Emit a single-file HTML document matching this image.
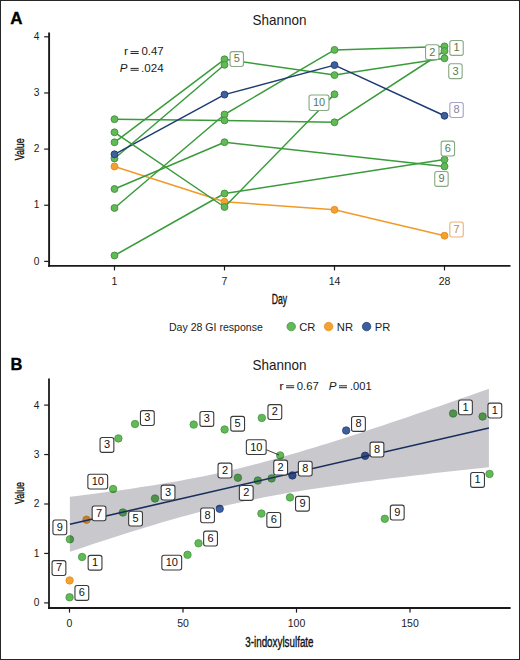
<!DOCTYPE html>
<html><head><meta charset="utf-8"><style>
html,body{margin:0;padding:0;background:#fff;}
#fig{position:relative;width:520px;height:660px;box-sizing:border-box;border:1px solid #262626;overflow:hidden;background:#fff;}
svg{position:absolute;left:-1px;top:-1px;font-family:"Liberation Sans", sans-serif;}
</style></head><body>
<div id="fig"><svg width="520" height="660" viewBox="0 0 520 660">
<text x="10.2" y="24" font-size="17" text-anchor="start" fill="#000" font-weight="bold" stroke="#000" stroke-width="0.35">A</text>
<text x="252.4" y="24.6" font-size="14.3" text-anchor="start" fill="#1a1a1a" textLength="54.0" lengthAdjust="spacingAndGlyphs" >Shannon</text>
<line x1="49.1" y1="32.5" x2="49.1" y2="266.8" stroke="#1a1a1a" stroke-width="1.9"/>
<line x1="48.15" y1="265.9" x2="510.5" y2="265.9" stroke="#1a1a1a" stroke-width="1.9"/>
<line x1="44.2" y1="261.4" x2="49" y2="261.4" stroke="#1a1a1a" stroke-width="1.2"/>
<text x="39.4" y="264.50" font-size="10.2" text-anchor="end" fill="#1a1a1a" >0</text>
<line x1="44.2" y1="205.24999999999997" x2="49" y2="205.24999999999997" stroke="#1a1a1a" stroke-width="1.2"/>
<text x="39.4" y="208.35" font-size="10.2" text-anchor="end" fill="#1a1a1a" >1</text>
<line x1="44.2" y1="149.09999999999997" x2="49" y2="149.09999999999997" stroke="#1a1a1a" stroke-width="1.2"/>
<text x="39.4" y="152.20" font-size="10.2" text-anchor="end" fill="#1a1a1a" >2</text>
<line x1="44.2" y1="92.94999999999999" x2="49" y2="92.94999999999999" stroke="#1a1a1a" stroke-width="1.2"/>
<text x="39.4" y="96.05" font-size="10.2" text-anchor="end" fill="#1a1a1a" >3</text>
<line x1="44.2" y1="36.79999999999998" x2="49" y2="36.79999999999998" stroke="#1a1a1a" stroke-width="1.2"/>
<text x="39.4" y="39.90" font-size="10.2" text-anchor="end" fill="#1a1a1a" >4</text>
<line x1="114.5" y1="265.9" x2="114.5" y2="270.4" stroke="#1a1a1a" stroke-width="1.2"/>
<text x="114.5" y="284.8" font-size="10.5" text-anchor="middle" fill="#1a1a1a" >1</text>
<line x1="224.5" y1="265.9" x2="224.5" y2="270.4" stroke="#1a1a1a" stroke-width="1.2"/>
<text x="224.5" y="284.8" font-size="10.5" text-anchor="middle" fill="#1a1a1a" >7</text>
<line x1="334.5" y1="265.9" x2="334.5" y2="270.4" stroke="#1a1a1a" stroke-width="1.2"/>
<text x="334.5" y="284.8" font-size="10.5" text-anchor="middle" fill="#1a1a1a" >14</text>
<line x1="444.5" y1="265.9" x2="444.5" y2="270.4" stroke="#1a1a1a" stroke-width="1.2"/>
<text x="444.5" y="284.8" font-size="10.5" text-anchor="middle" fill="#1a1a1a" >28</text>
<text x="279.5" y="303.8" font-size="14" text-anchor="middle" fill="#111" textLength="15.4" lengthAdjust="spacingAndGlyphs" stroke="#111" stroke-width="0.35">Day</text>
<text x="0" y="0" font-size="13.6" fill="#111" stroke="#111" stroke-width="0.35" text-anchor="middle" textLength="22.0" lengthAdjust="spacingAndGlyphs" transform="translate(24.3,149.3) rotate(-90)">Value</text>
<text x="123.98" y="55.3" font-size="10.3" text-anchor="start" fill="#1a1a1a" textLength="4.13" lengthAdjust="spacingAndGlyphs" >r</text>
<line x1="130.5" y1="51.60" x2="138.7" y2="51.60" stroke="#1a1a1a" stroke-width="0.95"/>
<line x1="130.5" y1="53.50" x2="138.7" y2="53.50" stroke="#1a1a1a" stroke-width="0.95"/>
<text x="141.49" y="55.3" font-size="10.3" text-anchor="start" fill="#1a1a1a" textLength="22.23" lengthAdjust="spacingAndGlyphs" >0.47</text>
<text x="119.89" y="72.1" font-size="10.3" text-anchor="start" fill="#1a1a1a" font-style="italic" textLength="7.73" lengthAdjust="spacingAndGlyphs" >P</text>
<line x1="130.5" y1="68.40" x2="138.7" y2="68.40" stroke="#1a1a1a" stroke-width="0.95"/>
<line x1="130.5" y1="70.30" x2="138.7" y2="70.30" stroke="#1a1a1a" stroke-width="0.95"/>
<text x="141.09" y="72.1" font-size="10.3" text-anchor="start" fill="#1a1a1a" textLength="22.63" lengthAdjust="spacingAndGlyphs" >.024</text>
<polyline points="114.5,208 224.5,114.5 334.5,49.9 444.5,46.4" fill="none" stroke="#3a9b3b" stroke-width="1.5" stroke-linejoin="round"/>
<circle cx="114.5" cy="208" r="3.45" fill="#62ba56" stroke="#3e8f3c" stroke-width="0.9"/>
<circle cx="224.5" cy="114.5" r="3.45" fill="#62ba56" stroke="#3e8f3c" stroke-width="0.9"/>
<circle cx="334.5" cy="49.9" r="3.45" fill="#62ba56" stroke="#3e8f3c" stroke-width="0.9"/>
<circle cx="444.5" cy="46.4" r="3.45" fill="#62ba56" stroke="#3e8f3c" stroke-width="0.9"/>
<polyline points="114.5,142.3 224.5,59.3 334.5,75.1 444.5,58.3" fill="none" stroke="#3a9b3b" stroke-width="1.5" stroke-linejoin="round"/>
<circle cx="114.5" cy="142.3" r="3.45" fill="#62ba56" stroke="#3e8f3c" stroke-width="0.9"/>
<circle cx="224.5" cy="59.3" r="3.45" fill="#62ba56" stroke="#3e8f3c" stroke-width="0.9"/>
<circle cx="334.5" cy="75.1" r="3.45" fill="#62ba56" stroke="#3e8f3c" stroke-width="0.9"/>
<circle cx="444.5" cy="58.3" r="3.45" fill="#62ba56" stroke="#3e8f3c" stroke-width="0.9"/>
<polyline points="114.5,119.2 224.5,120.4 334.5,122.3 444.5,51.0" fill="none" stroke="#3a9b3b" stroke-width="1.5" stroke-linejoin="round"/>
<circle cx="114.5" cy="119.2" r="3.45" fill="#62ba56" stroke="#3e8f3c" stroke-width="0.9"/>
<circle cx="224.5" cy="120.4" r="3.45" fill="#62ba56" stroke="#3e8f3c" stroke-width="0.9"/>
<circle cx="334.5" cy="122.3" r="3.45" fill="#62ba56" stroke="#3e8f3c" stroke-width="0.9"/>
<circle cx="444.5" cy="51.0" r="3.45" fill="#62ba56" stroke="#3e8f3c" stroke-width="0.9"/>
<polyline points="114.5,158.5 224.5,64.8" fill="none" stroke="#3a9b3b" stroke-width="1.5" stroke-linejoin="round"/>
<circle cx="114.5" cy="158.5" r="3.45" fill="#62ba56" stroke="#3e8f3c" stroke-width="0.9"/>
<circle cx="224.5" cy="64.8" r="3.45" fill="#62ba56" stroke="#3e8f3c" stroke-width="0.9"/>
<polyline points="114.5,255.5 224.5,193.5 444.5,159.6" fill="none" stroke="#3a9b3b" stroke-width="1.5" stroke-linejoin="round"/>
<circle cx="114.5" cy="255.5" r="3.45" fill="#62ba56" stroke="#3e8f3c" stroke-width="0.9"/>
<circle cx="224.5" cy="193.5" r="3.45" fill="#62ba56" stroke="#3e8f3c" stroke-width="0.9"/>
<circle cx="444.5" cy="159.6" r="3.45" fill="#62ba56" stroke="#3e8f3c" stroke-width="0.9"/>
<polyline points="114.5,166.5 224.5,201.8 334.5,209.8 444.5,235.7" fill="none" stroke="#f29a28" stroke-width="1.5" stroke-linejoin="round"/>
<circle cx="114.5" cy="166.5" r="3.45" fill="#f5a131" stroke="#e08a1c" stroke-width="0.9"/>
<circle cx="224.5" cy="201.8" r="3.45" fill="#f5a131" stroke="#e08a1c" stroke-width="0.9"/>
<circle cx="334.5" cy="209.8" r="3.45" fill="#f5a131" stroke="#e08a1c" stroke-width="0.9"/>
<circle cx="444.5" cy="235.7" r="3.45" fill="#f5a131" stroke="#e08a1c" stroke-width="0.9"/>
<polyline points="114.5,154.3 224.5,94.6 334.5,65.1 444.5,115.8" fill="none" stroke="#1e3b73" stroke-width="1.5" stroke-linejoin="round"/>
<circle cx="114.5" cy="154.3" r="3.45" fill="#3d5f9e" stroke="#1d3a72" stroke-width="0.9"/>
<circle cx="224.5" cy="94.6" r="3.45" fill="#3d5f9e" stroke="#1d3a72" stroke-width="0.9"/>
<circle cx="334.5" cy="65.1" r="3.45" fill="#3d5f9e" stroke="#1d3a72" stroke-width="0.9"/>
<circle cx="444.5" cy="115.8" r="3.45" fill="#3d5f9e" stroke="#1d3a72" stroke-width="0.9"/>
<polyline points="114.5,189 224.5,142.2 444.5,166.4" fill="none" stroke="#3a9b3b" stroke-width="1.5" stroke-linejoin="round"/>
<circle cx="114.5" cy="189" r="3.45" fill="#62ba56" stroke="#3e8f3c" stroke-width="0.9"/>
<circle cx="224.5" cy="142.2" r="3.45" fill="#62ba56" stroke="#3e8f3c" stroke-width="0.9"/>
<circle cx="444.5" cy="166.4" r="3.45" fill="#62ba56" stroke="#3e8f3c" stroke-width="0.9"/>
<polyline points="114.5,132.3 224.5,207 334.5,94.3" fill="none" stroke="#3a9b3b" stroke-width="1.5" stroke-linejoin="round"/>
<circle cx="114.5" cy="132.3" r="3.45" fill="#62ba56" stroke="#3e8f3c" stroke-width="0.9"/>
<circle cx="224.5" cy="207" r="3.45" fill="#62ba56" stroke="#3e8f3c" stroke-width="0.9"/>
<circle cx="334.5" cy="94.3" r="3.45" fill="#62ba56" stroke="#3e8f3c" stroke-width="0.9"/>
<line x1="329.4" y1="99" x2="332" y2="96.5" stroke="#3a9b3b" stroke-width="1.2"/>
<rect x="449.85" y="40.45" width="13.40" height="14.90" rx="2.2" ry="2.2" fill="#fff" stroke="#86a882" stroke-width="1.1"/>
<text x="456.55" y="51.25" font-size="11" text-anchor="middle" fill="#557a52" >1</text>
<rect x="425.55" y="44.75" width="13.40" height="14.90" rx="2.2" ry="2.2" fill="#fff" stroke="#86a882" stroke-width="1.1"/>
<text x="432.25" y="55.55" font-size="11" text-anchor="middle" fill="#557a52" >2</text>
<rect x="448.75" y="63.75" width="13.40" height="14.90" rx="2.2" ry="2.2" fill="#fff" stroke="#86a882" stroke-width="1.1"/>
<text x="455.45" y="74.55" font-size="11" text-anchor="middle" fill="#557a52" >3</text>
<rect x="230.05" y="51.65" width="13.40" height="14.90" rx="2.2" ry="2.2" fill="#fff" stroke="#86a882" stroke-width="1.1"/>
<text x="236.75" y="62.45" font-size="11" text-anchor="middle" fill="#557a52" >5</text>
<rect x="441.15" y="141.15" width="13.40" height="14.90" rx="2.2" ry="2.2" fill="#fff" stroke="#86a882" stroke-width="1.1"/>
<text x="447.85" y="151.95" font-size="11" text-anchor="middle" fill="#557a52" >6</text>
<rect x="434.75" y="171.45" width="13.40" height="14.90" rx="2.2" ry="2.2" fill="#fff" stroke="#86a882" stroke-width="1.1"/>
<text x="441.45" y="182.25" font-size="11" text-anchor="middle" fill="#557a52" >9</text>
<rect x="449.85" y="222.05" width="13.40" height="14.90" rx="2.2" ry="2.2" fill="#fff" stroke="#e8b474" stroke-width="1.1"/>
<text x="456.55" y="232.85" font-size="11" text-anchor="middle" fill="#c48a44" >7</text>
<rect x="449.85" y="102.55" width="13.40" height="14.90" rx="2.2" ry="2.2" fill="#fff" stroke="#a4a4c4" stroke-width="1.1"/>
<text x="456.55" y="113.35" font-size="11" text-anchor="middle" fill="#8686a6" >8</text>
<rect x="309.05" y="94.95" width="19.90" height="15.50" rx="2.2" ry="2.2" fill="#fff" stroke="#86a882" stroke-width="1.1"/>
<text x="319.00" y="106.05" font-size="11" text-anchor="middle" fill="#557a52" >10</text>
<text x="169.0" y="330.8" font-size="11.2" text-anchor="start" fill="#222" textLength="93.8" lengthAdjust="spacingAndGlyphs" >Day 28 GI response</text>
<circle cx="291.2" cy="326.6" r="4.25" fill="#62ba56" stroke="#3e8f3c" stroke-width="0.7"/>
<text x="299.2" y="330.8" font-size="11.2" text-anchor="start" fill="#222" >CR</text>
<circle cx="328.6" cy="326.6" r="4.25" fill="#f5a131" stroke="#e08a1c" stroke-width="0.7"/>
<text x="336.8" y="330.8" font-size="11.2" text-anchor="start" fill="#222" >NR</text>
<circle cx="366.6" cy="326.6" r="4.25" fill="#3d5f9e" stroke="#1d3a72" stroke-width="0.7"/>
<text x="374.7" y="330.8" font-size="11.2" text-anchor="start" fill="#222" >PR</text>
<text x="10.4" y="370" font-size="16.5" text-anchor="start" fill="#000" font-weight="bold" stroke="#000" stroke-width="0.35">B</text>
<text x="252.4" y="370.2" font-size="14.3" text-anchor="start" fill="#1a1a1a" textLength="54.0" lengthAdjust="spacingAndGlyphs" >Shannon</text>
<text x="279.28" y="389.5" font-size="10.5" text-anchor="start" fill="#1a1a1a" textLength="4.45" lengthAdjust="spacingAndGlyphs" >r</text>
<line x1="286.1" y1="385.80" x2="294.2" y2="385.80" stroke="#1a1a1a" stroke-width="0.95"/>
<line x1="286.1" y1="387.70" x2="294.2" y2="387.70" stroke="#1a1a1a" stroke-width="0.95"/>
<text x="296.78" y="389.5" font-size="10.5" text-anchor="start" fill="#1a1a1a" textLength="22.05" lengthAdjust="spacingAndGlyphs" >0.67</text>
<text x="328.88" y="389.5" font-size="10.5" text-anchor="start" fill="#1a1a1a" font-style="italic" textLength="7.75" lengthAdjust="spacingAndGlyphs" >P</text>
<line x1="339.0" y1="385.80" x2="347.0" y2="385.80" stroke="#1a1a1a" stroke-width="0.95"/>
<line x1="339.0" y1="387.70" x2="347.0" y2="387.70" stroke="#1a1a1a" stroke-width="0.95"/>
<text x="349.98" y="389.5" font-size="10.5" text-anchor="start" fill="#1a1a1a" textLength="21.75" lengthAdjust="spacingAndGlyphs" >.001</text>
<line x1="49" y1="378.5" x2="49" y2="608.9" stroke="#1a1a1a" stroke-width="1.8"/>
<line x1="48.1" y1="608" x2="510.6" y2="608" stroke="#1a1a1a" stroke-width="1.8"/>
<line x1="44.2" y1="602.90" x2="49" y2="602.90" stroke="#1a1a1a" stroke-width="1.2"/>
<text x="39.4" y="606.30" font-size="10.2" text-anchor="end" fill="#1a1a1a" >0</text>
<line x1="44.2" y1="553.45" x2="49" y2="553.45" stroke="#1a1a1a" stroke-width="1.2"/>
<text x="39.4" y="556.85" font-size="10.2" text-anchor="end" fill="#1a1a1a" >1</text>
<line x1="44.2" y1="504.00" x2="49" y2="504.00" stroke="#1a1a1a" stroke-width="1.2"/>
<text x="39.4" y="507.40" font-size="10.2" text-anchor="end" fill="#1a1a1a" >2</text>
<line x1="44.2" y1="454.55" x2="49" y2="454.55" stroke="#1a1a1a" stroke-width="1.2"/>
<text x="39.4" y="457.95" font-size="10.2" text-anchor="end" fill="#1a1a1a" >3</text>
<line x1="44.2" y1="405.10" x2="49" y2="405.10" stroke="#1a1a1a" stroke-width="1.2"/>
<text x="39.4" y="408.50" font-size="10.2" text-anchor="end" fill="#1a1a1a" >4</text>
<line x1="69.50" y1="608" x2="69.50" y2="612.6" stroke="#1a1a1a" stroke-width="1.2"/>
<text x="69.50" y="627" font-size="10.5" text-anchor="middle" fill="#1a1a1a" >0</text>
<line x1="183.00" y1="608" x2="183.00" y2="612.6" stroke="#1a1a1a" stroke-width="1.2"/>
<text x="183.00" y="627" font-size="10.5" text-anchor="middle" fill="#1a1a1a" >50</text>
<line x1="296.50" y1="608" x2="296.50" y2="612.6" stroke="#1a1a1a" stroke-width="1.2"/>
<text x="296.50" y="627" font-size="10.5" text-anchor="middle" fill="#1a1a1a" >100</text>
<line x1="410.00" y1="608" x2="410.00" y2="612.6" stroke="#1a1a1a" stroke-width="1.2"/>
<text x="410.00" y="627" font-size="10.5" text-anchor="middle" fill="#1a1a1a" >150</text>
<text x="279.4" y="647" font-size="14" text-anchor="middle" fill="#111" textLength="68.3" lengthAdjust="spacingAndGlyphs" stroke="#111" stroke-width="0.35">3-indoxylsulfate</text>
<text x="0" y="0" font-size="13.6" fill="#111" stroke="#111" stroke-width="0.35" text-anchor="middle" textLength="22.0" lengthAdjust="spacingAndGlyphs" transform="translate(24.3,493) rotate(-90)">Value</text>
<circle cx="135" cy="424" r="3.75" fill="#62ba56" stroke="#3e8f3c" stroke-width="0.7"/>
<circle cx="118.4" cy="438.4" r="3.75" fill="#62ba56" stroke="#3e8f3c" stroke-width="0.7"/>
<circle cx="193.7" cy="424.6" r="3.75" fill="#62ba56" stroke="#3e8f3c" stroke-width="0.7"/>
<circle cx="224.6" cy="429.5" r="3.75" fill="#62ba56" stroke="#3e8f3c" stroke-width="0.7"/>
<circle cx="261.8" cy="417.9" r="3.75" fill="#62ba56" stroke="#3e8f3c" stroke-width="0.7"/>
<circle cx="280.2" cy="455.4" r="3.75" fill="#62ba56" stroke="#3e8f3c" stroke-width="0.7"/>
<circle cx="237.9" cy="477.7" r="3.75" fill="#62ba56" stroke="#3e8f3c" stroke-width="0.7"/>
<circle cx="257.8" cy="480.5" r="3.75" fill="#62ba56" stroke="#3e8f3c" stroke-width="0.7"/>
<circle cx="271.6" cy="478.4" r="3.75" fill="#62ba56" stroke="#3e8f3c" stroke-width="0.7"/>
<circle cx="292.4" cy="475.4" r="3.75" fill="#3d5f9e" stroke="#1d3a72" stroke-width="0.7"/>
<circle cx="219.7" cy="508.8" r="3.75" fill="#3d5f9e" stroke="#1d3a72" stroke-width="0.7"/>
<circle cx="290" cy="497.4" r="3.75" fill="#62ba56" stroke="#3e8f3c" stroke-width="0.7"/>
<circle cx="261.4" cy="513.6" r="3.75" fill="#62ba56" stroke="#3e8f3c" stroke-width="0.7"/>
<circle cx="384.8" cy="518.8" r="3.75" fill="#62ba56" stroke="#3e8f3c" stroke-width="0.7"/>
<circle cx="346.2" cy="430.5" r="3.75" fill="#3d5f9e" stroke="#1d3a72" stroke-width="0.7"/>
<circle cx="365.1" cy="455.8" r="3.75" fill="#3d5f9e" stroke="#1d3a72" stroke-width="0.7"/>
<circle cx="453.1" cy="413.5" r="3.75" fill="#62ba56" stroke="#3e8f3c" stroke-width="0.7"/>
<circle cx="482.6" cy="416.5" r="3.75" fill="#62ba56" stroke="#3e8f3c" stroke-width="0.7"/>
<circle cx="489.5" cy="473.9" r="3.75" fill="#62ba56" stroke="#3e8f3c" stroke-width="0.7"/>
<circle cx="198.5" cy="543.3" r="3.75" fill="#62ba56" stroke="#3e8f3c" stroke-width="0.7"/>
<circle cx="187.5" cy="554.8" r="3.75" fill="#62ba56" stroke="#3e8f3c" stroke-width="0.7"/>
<circle cx="69.6" cy="597.3" r="3.75" fill="#62ba56" stroke="#3e8f3c" stroke-width="0.7"/>
<circle cx="69.6" cy="580.4" r="3.75" fill="#f5a131" stroke="#e08a1c" stroke-width="0.7"/>
<circle cx="82.1" cy="557" r="3.75" fill="#62ba56" stroke="#3e8f3c" stroke-width="0.7"/>
<circle cx="69.9" cy="539.3" r="3.75" fill="#62ba56" stroke="#3e8f3c" stroke-width="0.7"/>
<circle cx="86.5" cy="519.7" r="3.75" fill="#f5a131" stroke="#e08a1c" stroke-width="0.7"/>
<circle cx="122.8" cy="512.5" r="3.75" fill="#62ba56" stroke="#3e8f3c" stroke-width="0.7"/>
<circle cx="113.1" cy="489" r="3.75" fill="#62ba56" stroke="#3e8f3c" stroke-width="0.7"/>
<circle cx="155" cy="498.5" r="3.75" fill="#62ba56" stroke="#3e8f3c" stroke-width="0.7"/>
<polygon points="69.90,496.79 76.88,495.93 83.87,495.04 90.85,494.15 97.83,493.24 104.82,492.31 111.80,491.36 118.78,490.39 125.77,489.40 132.75,488.38 139.73,487.34 146.72,486.27 153.70,485.16 160.68,484.03 167.67,482.86 174.65,481.65 181.63,480.40 188.62,479.10 195.60,477.77 202.58,476.38 209.57,474.94 216.55,473.46 223.53,471.92 230.52,470.33 237.50,468.68 244.48,466.99 251.47,465.24 258.45,463.44 265.43,461.60 272.42,459.71 279.40,457.77 286.38,455.79 293.37,453.77 300.35,451.72 307.33,449.62 314.32,447.50 321.30,445.35 328.28,443.17 335.27,440.96 342.25,438.74 349.23,436.49 356.22,434.22 363.20,431.93 370.18,429.62 377.17,427.30 384.15,424.97 391.13,422.62 398.12,420.26 405.10,417.89 412.08,415.51 419.07,413.11 426.05,410.71 433.03,408.31 440.02,405.89 447.00,403.47 453.98,401.04 460.97,398.60 467.95,396.16 474.93,393.71 481.92,391.26 488.90,388.81 488.90,467.19 481.92,467.95 474.93,468.71 467.95,469.47 460.97,470.24 453.98,471.01 447.00,471.79 440.02,472.58 433.03,473.37 426.05,474.18 419.07,474.99 412.08,475.80 405.10,476.63 398.12,477.47 391.13,478.32 384.15,479.18 377.17,480.06 370.18,480.95 363.20,481.85 356.22,482.77 349.23,483.71 342.25,484.67 335.27,485.66 328.28,486.66 321.30,487.69 314.32,488.75 307.33,489.84 300.35,490.95 293.37,492.11 286.38,493.30 279.40,494.53 272.42,495.80 265.43,497.12 258.45,498.49 251.47,499.90 244.48,501.36 237.50,502.88 230.52,504.44 223.53,506.06 216.55,507.73 209.57,509.46 202.58,511.23 195.60,513.05 188.62,514.93 181.63,516.84 174.65,518.80 167.67,520.80 160.68,522.84 153.70,524.92 146.72,527.02 139.73,529.16 132.75,531.33 125.77,533.52 118.78,535.74 111.80,537.98 104.82,540.24 97.83,542.52 90.85,544.82 83.87,547.14 76.88,549.46 69.90,551.81" fill="rgb(12,8,30)" fill-opacity="0.225"/>
<line x1="69.9" y1="524.3" x2="488.9" y2="428.0" stroke="#182f5e" stroke-width="1.6"/>
<line x1="266" y1="449.6" x2="279" y2="455" stroke="#222" stroke-width="0.9"/>
<rect x="140.45" y="410.65" width="13.80" height="14.80" rx="2.2" ry="2.2" fill="#fff" stroke="#3a3a3a" stroke-width="1.1"/>
<text x="147.35" y="421.40" font-size="11" text-anchor="middle" fill="#111" >3</text>
<rect x="100.05" y="437.55" width="13.80" height="14.80" rx="2.2" ry="2.2" fill="#fff" stroke="#3a3a3a" stroke-width="1.1"/>
<text x="106.95" y="448.30" font-size="11" text-anchor="middle" fill="#111" >3</text>
<rect x="199.95" y="411.55" width="13.80" height="14.80" rx="2.2" ry="2.2" fill="#fff" stroke="#3a3a3a" stroke-width="1.1"/>
<text x="206.85" y="422.30" font-size="11" text-anchor="middle" fill="#111" >3</text>
<rect x="230.75" y="416.35" width="13.80" height="14.80" rx="2.2" ry="2.2" fill="#fff" stroke="#3a3a3a" stroke-width="1.1"/>
<text x="237.65" y="427.10" font-size="11" text-anchor="middle" fill="#111" >5</text>
<rect x="267.95" y="404.65" width="13.80" height="14.80" rx="2.2" ry="2.2" fill="#fff" stroke="#3a3a3a" stroke-width="1.1"/>
<text x="274.85" y="415.40" font-size="11" text-anchor="middle" fill="#111" >2</text>
<rect x="246.35" y="439.75" width="19.80" height="14.80" rx="2.2" ry="2.2" fill="#fff" stroke="#3a3a3a" stroke-width="1.1"/>
<text x="256.25" y="450.50" font-size="11" text-anchor="middle" fill="#111" >10</text>
<rect x="218.05" y="463.15" width="13.80" height="14.80" rx="2.2" ry="2.2" fill="#fff" stroke="#3a3a3a" stroke-width="1.1"/>
<text x="224.95" y="473.90" font-size="11" text-anchor="middle" fill="#111" >2</text>
<rect x="273.75" y="460.15" width="13.80" height="14.80" rx="2.2" ry="2.2" fill="#fff" stroke="#3a3a3a" stroke-width="1.1"/>
<text x="280.65" y="470.90" font-size="11" text-anchor="middle" fill="#111" >2</text>
<rect x="239.35" y="485.55" width="13.80" height="14.80" rx="2.2" ry="2.2" fill="#fff" stroke="#3a3a3a" stroke-width="1.1"/>
<text x="246.25" y="496.30" font-size="11" text-anchor="middle" fill="#111" >2</text>
<rect x="298.35" y="461.25" width="13.80" height="14.80" rx="2.2" ry="2.2" fill="#fff" stroke="#3a3a3a" stroke-width="1.1"/>
<text x="305.25" y="472.00" font-size="11" text-anchor="middle" fill="#111" >8</text>
<rect x="295.55" y="496.35" width="13.80" height="14.80" rx="2.2" ry="2.2" fill="#fff" stroke="#3a3a3a" stroke-width="1.1"/>
<text x="302.45" y="507.10" font-size="11" text-anchor="middle" fill="#111" >9</text>
<rect x="200.65" y="507.95" width="13.80" height="14.80" rx="2.2" ry="2.2" fill="#fff" stroke="#3a3a3a" stroke-width="1.1"/>
<text x="207.55" y="518.70" font-size="11" text-anchor="middle" fill="#111" >8</text>
<rect x="266.85" y="512.55" width="13.80" height="14.80" rx="2.2" ry="2.2" fill="#fff" stroke="#3a3a3a" stroke-width="1.1"/>
<text x="273.75" y="523.30" font-size="11" text-anchor="middle" fill="#111" >6</text>
<rect x="390.35" y="505.15" width="13.80" height="14.80" rx="2.2" ry="2.2" fill="#fff" stroke="#3a3a3a" stroke-width="1.1"/>
<text x="397.25" y="515.90" font-size="11" text-anchor="middle" fill="#111" >9</text>
<rect x="351.55" y="416.55" width="13.80" height="14.80" rx="2.2" ry="2.2" fill="#fff" stroke="#3a3a3a" stroke-width="1.1"/>
<text x="358.45" y="427.30" font-size="11" text-anchor="middle" fill="#111" >8</text>
<rect x="370.05" y="442.15" width="13.80" height="14.80" rx="2.2" ry="2.2" fill="#fff" stroke="#3a3a3a" stroke-width="1.1"/>
<text x="376.95" y="452.90" font-size="11" text-anchor="middle" fill="#111" >8</text>
<rect x="458.55" y="399.95" width="13.80" height="14.80" rx="2.2" ry="2.2" fill="#fff" stroke="#3a3a3a" stroke-width="1.1"/>
<text x="465.45" y="410.70" font-size="11" text-anchor="middle" fill="#111" >1</text>
<rect x="487.95" y="403.15" width="13.80" height="14.80" rx="2.2" ry="2.2" fill="#fff" stroke="#3a3a3a" stroke-width="1.1"/>
<text x="494.85" y="413.90" font-size="11" text-anchor="middle" fill="#111" >1</text>
<rect x="470.65" y="472.55" width="13.80" height="14.80" rx="2.2" ry="2.2" fill="#fff" stroke="#3a3a3a" stroke-width="1.1"/>
<text x="477.55" y="483.30" font-size="11" text-anchor="middle" fill="#111" >1</text>
<rect x="203.65" y="531.15" width="13.80" height="14.80" rx="2.2" ry="2.2" fill="#fff" stroke="#3a3a3a" stroke-width="1.1"/>
<text x="210.55" y="541.90" font-size="11" text-anchor="middle" fill="#111" >6</text>
<rect x="161.85" y="555.25" width="19.80" height="14.80" rx="2.2" ry="2.2" fill="#fff" stroke="#3a3a3a" stroke-width="1.1"/>
<text x="171.75" y="566.00" font-size="11" text-anchor="middle" fill="#111" >10</text>
<rect x="52.05" y="560.65" width="13.80" height="14.80" rx="2.2" ry="2.2" fill="#fff" stroke="#3a3a3a" stroke-width="1.1"/>
<text x="58.95" y="571.40" font-size="11" text-anchor="middle" fill="#111" >7</text>
<rect x="74.95" y="585.55" width="13.80" height="14.80" rx="2.2" ry="2.2" fill="#fff" stroke="#3a3a3a" stroke-width="1.1"/>
<text x="81.85" y="596.30" font-size="11" text-anchor="middle" fill="#111" >6</text>
<rect x="88.15" y="555.35" width="13.80" height="14.80" rx="2.2" ry="2.2" fill="#fff" stroke="#3a3a3a" stroke-width="1.1"/>
<text x="95.05" y="566.10" font-size="11" text-anchor="middle" fill="#111" >1</text>
<rect x="52.95" y="519.95" width="13.80" height="14.80" rx="2.2" ry="2.2" fill="#fff" stroke="#3a3a3a" stroke-width="1.1"/>
<text x="59.85" y="530.70" font-size="11" text-anchor="middle" fill="#111" >9</text>
<rect x="92.15" y="505.95" width="13.80" height="14.80" rx="2.2" ry="2.2" fill="#fff" stroke="#3a3a3a" stroke-width="1.1"/>
<text x="99.05" y="516.70" font-size="11" text-anchor="middle" fill="#111" >7</text>
<rect x="128.65" y="511.25" width="13.80" height="14.80" rx="2.2" ry="2.2" fill="#fff" stroke="#3a3a3a" stroke-width="1.1"/>
<text x="135.55" y="522.00" font-size="11" text-anchor="middle" fill="#111" >5</text>
<rect x="87.85" y="474.25" width="19.80" height="14.80" rx="2.2" ry="2.2" fill="#fff" stroke="#3a3a3a" stroke-width="1.1"/>
<text x="97.75" y="485.00" font-size="11" text-anchor="middle" fill="#111" >10</text>
<rect x="161.15" y="485.15" width="13.80" height="14.80" rx="2.2" ry="2.2" fill="#fff" stroke="#3a3a3a" stroke-width="1.1"/>
<text x="168.05" y="495.90" font-size="11" text-anchor="middle" fill="#111" >3</text>
</svg></div>
</body></html>
